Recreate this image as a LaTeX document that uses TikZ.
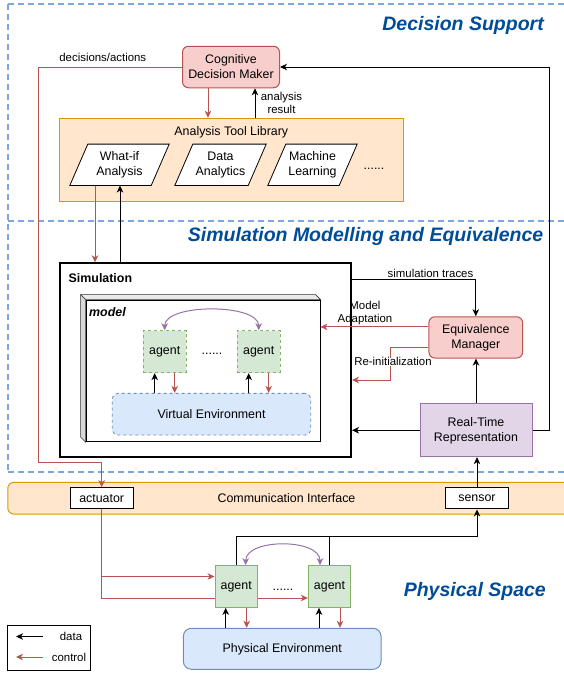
\documentclass[tikz,border=0pt]{standalone}
\usepackage{fontspec}
\setmainfont{Liberation Sans}
\usetikzlibrary{arrows.meta,calc}
\definecolor{redS}{HTML}{B85450}
\definecolor{redF}{HTML}{F8CECC}
\definecolor{orgS}{HTML}{D79B00}
\definecolor{orgF}{HTML}{FFE6CC}
\definecolor{grnS}{HTML}{82B366}
\definecolor{grnF}{HTML}{D5E8D4}
\definecolor{bluS}{HTML}{6C8EBF}
\definecolor{bluF}{HTML}{DAE8FC}
\definecolor{purS}{HTML}{9673A6}
\definecolor{purF}{HTML}{E1D5E7}
\definecolor{ttl}{HTML}{004C99}
\definecolor{sepc}{HTML}{7EA6E0}
\pgfdeclarelayer{back}
\pgfdeclarelayer{paras}
\pgfsetlayers{back,paras,main}
\begin{document}
\begin{tikzpicture}[x=1pt,y=-1pt,
  every node/.style={font=\fontsize{12.4}{15}\selectfont, inner sep=0pt, align=center},
  tipA/.style={-{Stealth[length=7pt,width=6.5pt,inset=2pt]}},
  data/.style={draw=black, line width=1pt, tipA},
  dataline/.style={draw=black, line width=1pt},
  ctrl/.style={draw=redS, line width=1pt, tipA},
  purp/.style={draw=purS, line width=1pt, {Stealth[length=7pt,width=6.5pt,inset=2pt]}-{Stealth[length=7pt,width=6.5pt,inset=2pt]}},
  lbl/.style={font=\fontsize{11.4}{13.5}\selectfont},
  ttlS/.style={font=\fontsize{19.5}{22}\selectfont\bfseries\itshape, text=ttl, anchor=east},
  region/.style={draw=sepc, line width=1.5pt, dash pattern=on 6pt off 4pt},
  sagent/.style={draw=grnS, fill=grnF, dashed, line width=0.8pt, minimum width=42.7, minimum height=42},
  pagent/.style={draw=grnS, fill=grnF, line width=1pt, minimum width=42.3, minimum height=41.6},
  para/.style={draw=black, fill=white, line width=0.8pt},
  wbox/.style={draw=black, fill=white, line width=1pt, minimum height=21.3},
  cubeface/.style={draw=black!80, line width=0.6pt}]
\useasboundingbox (0,0) rectangle (564,673);
% regions
\draw[region] (8,4) -- (600,4);
\draw[region] (8,4) -- (8,472);
\draw[region] (8,221) -- (600,221);
\draw[region] (8,472) -- (600,472);
% titles
\node[ttlS] (t1) at (544,25.7) {Decision Support};
\node[ttlS] (t2) at (543.5,236.3) {Simulation Modelling and Equivalence};
\node[ttlS] (t3) at (546,591.7) {Physical Space};
% decision support
\node[draw=redS, fill=redF, line width=1pt, rounded corners=6, minimum width=97, minimum height=41.5] (cdm) at (231,67) {Cognitive\\Decision Maker};
\begin{pgfonlayer}{back}
\node[draw=orgS, fill=orgF, line width=1pt, minimum width=344, minimum height=83.4] (atl) at (231.3,160) {};
\end{pgfonlayer}
\node (atlT) at (231.3,132.7) {Analysis Tool Library};
\node[minimum width=63, minimum height=41] (wi) at (119.5,164.8) {What-if\\Analysis};
\node[minimum width=55, minimum height=41] (da) at (220.5,164.8) {Data\\Analytics};
\node[minimum width=53, minimum height=41] (ml) at (312.5,164.8) {Machine\\Learning};
\begin{pgfonlayer}{paras}
\foreach \p in {wi,da,ml}{
  \draw[para] ([xshift=-18pt]\p.south west) -- (\p.north west) -- ([xshift=18pt]\p.north east) -- (\p.south east) -- cycle;
}
\end{pgfonlayer}
\node (atlD) at (374,169) {......};
% simulation
\node[draw=black, line width=2pt, minimum width=291.5, minimum height=193.4] (sim) at (205.25,360) {};
\node[font=\fontsize{12.4}{15}\selectfont\bfseries, anchor=west] (simT) at (68.5,278.3) {Simulation};
\node[draw=black, fill=white, line width=0.8pt, minimum width=234, minimum height=141.7] (model) at (203,370.8) {};
\draw[cubeface, fill=black!8] (model.north west) -- ++(-5,-5) -- ($(model.north east)+(-5,-5)$) -- (model.north east) -- cycle;
\draw[cubeface, fill=black!15] (model.north west) -- ++(-5,-5) -- ($(model.south west)+(-5,-5)$) -- (model.south west) -- cycle;
\node[font=\fontsize{12.4}{15}\selectfont\bfseries\itshape, anchor=west] (modelT) at (89,311.7) {model};
\node[sagent] (sa1) at (164.7,351.7) {agent};
\node[sagent] (sa2) at (258.7,351.7) {agent};
\node (sdots) at (212,354) {......};
\node[draw=bluS, fill=bluF, dashed, line width=0.8pt, rounded corners=6, minimum width=198.4, minimum height=41.7] (ve) at (211.5,414.2) {Virtual Environment};
\node[draw=redS, fill=redF, line width=1pt, rounded corners=6, minimum width=93.7, minimum height=41.3] (em) at (475.8,337.4) {Equivalence\\Manager};
\node[draw=purS, fill=purF, line width=1pt, minimum width=112, minimum height=52.7] (rtr) at (476,430.3) {Real-Time\\Representation};
% communication interface
\node[draw=orgS, fill=orgF, line width=1pt, rounded corners=6, minimum width=600, minimum height=31.7, anchor=west] (ci) at (7.3,498.2) {};
\node (ciT) at (286.5,497.7) {Communication Interface};
\node[wbox, minimum width=63.3] (act) at (101.7,498.3) {actuator};
\node[wbox, minimum width=62.3] (sen) at (477,498.3) {sensor};
% physical
\node[pagent] (pa2) at (329.5,586.5) {agent};
\coordinate (pa2in) at ($(pa2.west)+(0,11.5)$);
\draw[ctrl] (act.south) |- (pa2in);
\node[pagent] (pa1) at (236.2,586.5) {agent};
\node (pdots) at (283,590) {......};
\node[draw=bluS, fill=bluF, line width=1pt, rounded corners=8, minimum width=197.7, minimum height=41] (pe) at (282.2,648.8) {Physical Environment};
% legend
\node[draw=black, line width=0.8pt, minimum width=83.4, minimum height=45] (leg) at (49,647.5) {};
\coordinate (ld1) at (42.7,636.5);
\coordinate (ld2) at (16,636.5);
\coordinate (lc1) at (42.7,657);
\coordinate (lc2) at (16,657);
\draw[data] (ld1) -- (ld2);
\draw[ctrl] (lc1) -- (lc2);
\node[lbl] (ldT) at (71,636.5) {data};
\node[lbl] (lcT) at (69,657) {control};
% connectors: decision support
\coordinate (cdmR) at ($(cdm.south)+(-23,0)$);
\draw[ctrl] (cdmR) -- (cdmR |- atl.north);
\coordinate (atlB) at ($(atl.north)+(23.7,0)$);
\draw[data] (atlB) -- (atlB |- cdm.south);
\node[lbl] (arT) at (281.5,103) {analysis\\result};
\coordinate (dcorner) at (38.9,462.3);
\draw[ctrl] (cdm.west) -| (dcorner) -| (act.north);
\node[lbl] (daT) at (102.8,57.3) {decisions/actions};
\coordinate (wiR) at ($(wi.south)+(-24.5,0)$);
\coordinate (wiB) at ($(wi.south)+(0.5,0)$);
\draw[ctrl] (wiR) -- (wiR |- sim.north);
\draw[data] (wiB |- sim.north) -- (wiB);
% connectors: simulation
\coordinate (stS) at ($(sim.north east)+(0,17.5)$);
\draw[data] (stS) -| (em.north);
\node[lbl] (stT) at (430.5,273.5) {simulation traces};
\coordinate (maS) at ($(em.west)+(0,-10.5)$);
\draw[ctrl] (maS) -- (maS -| model.east);
\node[lbl, font=\fontsize{11.4}{12.5}\selectfont] (maT) at (365,312.8) {Model\\Adaptation};
\coordinate (riS) at ($(em.west)+(0,10.3)$);
\coordinate (riC) at (390,380);
\draw[ctrl] (riS) -| (riC) -- (riC -| sim.east);
\node[lbl, fill=white] (riT) at (393,361.7) {Re-initialization};
\draw[data] (rtr.north) -- (rtr.north |- em.south);
\draw[data] (rtr.west) -- (rtr.west -| sim.east);
\coordinate (rtE) at ($(rtr.east)+(17,0)$);
\draw[data] (rtr.east) -- (rtE) |- (cdm.east);
\draw[purp] (sa1.north) .. controls +(0,-27) and +(0,-27) .. (sa2.north);
\foreach \a in {sa1,sa2}{
  \coordinate (\a b) at ($(\a.south)+(-10,0)$);
  \coordinate (\a r) at ($(\a.south)+(10,0)$);
  \draw[data] (\a b |- ve.north) -- (\a b);
  \draw[ctrl] (\a r) -- (\a r |- ve.north);
}
% connectors: physical
\draw[data] (sen.north) -- (sen.north |- rtr.south);
\coordinate (bus) at ($(pa1.north)+(0,-29)$);
\draw[data] (pa1.north) -- (bus) -| (sen.south);
\draw[dataline] (pa2.north) -- (pa2.north |- bus);
\coordinate (pa1in) at ($(pa1.west)+(0,-10)$);
\draw[ctrl] (act.south) |- (pa1in);
\coordinate (pp1) at ($(pa1.north)+(9.5,0)$);
\coordinate (pp2) at ($(pa2.north)+(-9.5,0)$);
\draw[purp] (pp1) .. controls +(0,-27) and +(0,-27) .. (pp2);
\foreach \a in {pa1,pa2}{
  \coordinate (\a b) at ($(\a.south)+(-10.5,0)$);
  \coordinate (\a r) at ($(\a.south)+(10.5,0)$);
  \draw[data] (\a b |- pe.north) -- (\a b);
  \draw[ctrl] (\a r) -- (\a r |- pe.north);
}
\end{tikzpicture}
\end{document}
